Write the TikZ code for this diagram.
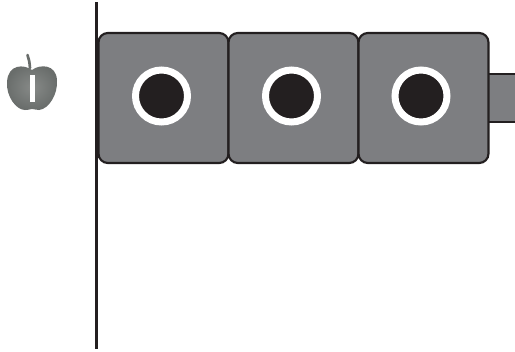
\documentclass[tikz,border=0pt]{standalone}
\definecolor{bodygrey}{RGB}{125,126,129}
\definecolor{inkdark}{RGB}{35,31,32}
\definecolor{applegrey}{RGB}{105,109,107}
\definecolor{applelight}{RGB}{135,138,136}
\newlength{\pxu}\setlength{\pxu}{0.75pt}
\tikzset{
  unitbox/.style={draw=inkdark,line width=1.6pt,fill=bodygrey,rounded corners=7pt,minimum width=130\pxu,minimum height=130\pxu,inner sep=0pt},
  ring/.style={circle,draw=white,line width=7\pxu,fill=inkdark,minimum size=52\pxu,inner sep=0pt}
}
\begin{document}
\begin{tikzpicture}[x=0.75pt,y=-0.75pt]
\useasboundingbox (0,0) rectangle (515,351);
\fill[white] (0,0) rectangle (515,351);
% connector stub
\draw[draw=inkdark,line width=1.2pt,fill=bodygrey] (516,74) -- (488,74) -- (488,122) -- (516,122);
% units
\node[unitbox] (u1) at (163.5,98) {};
\node[unitbox] (u2) at (293.5,98) {};
\node[unitbox] (u3) at (423.5,98) {};
\node[ring] (r1) at (161.5,96) {};
\node[ring] (r2) at (291.5,96) {};
\node[ring] (r3) at (421,96) {};
% axis
\coordinate (axt) at (96.5,2);
\coordinate (axb) at (96.5,349);
\draw[inkdark,line width=2pt] (axt) -- (axb);
% apple
\draw[applegrey,line width=2pt,line cap=round] (30,68) .. controls (29.5,62) and (29,59) .. (27.5,55);
\shade[inner color=applelight,outer color=applegrey] (32,70)
  .. controls (24,64) and (8,64) .. (7,82)
  .. controls (6,96) and (16,110) .. (25,110)
  .. controls (29,110) and (30,109) .. (32,109)
  .. controls (34,109) and (36,110) .. (39,110)
  .. controls (49,109) and (58,94) .. (57,80)
  .. controls (56,64) and (40,64) .. (32,70) -- cycle;
\fill[white] (29.5,75) rectangle (35,102);
\end{tikzpicture}
\end{document}
